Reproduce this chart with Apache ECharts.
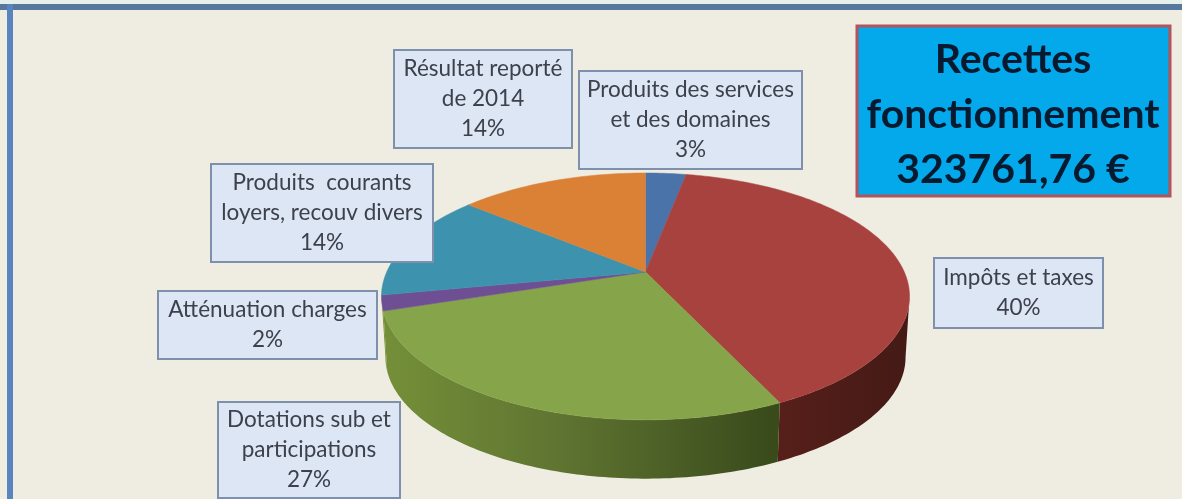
<!DOCTYPE html>
<html>
<head>
<meta charset="utf-8">
<style>html,body{margin:0;padding:0;background:#efece2}#c{width:1182px;height:499px}</style>
<script src="https://cdn.jsdelivr.net/npm/echarts@6/dist/echarts.min.js"></script>
</head>
<body>
<div id="c"></div>
<script>
// Data
const categories = ['Produits des services\net des domaines', 'Impôts et taxes', 'Dotations sub et\nparticipations', 'Atténuation charges', 'Produits  courants\nloyers, recouv divers', 'Résultat reporté\nde 2014'];
const percents = [3, 40, 27, 2, 14, 14];
const titleLines = ['Recettes', 'fonctionnement', '323761,76 €'];

// Styles
const topColors = ['#4a74a9', '#a8423f', '#86a44a', '#6e4f94', '#3d92ae', '#da8136'];
const wallColors = [null,
  [[0, '#571f1a'], [1, '#451a16']],
  [[0, '#748f38'], [0.45, '#5f7431'], [1, '#394a1b']],
  [[0, '#748f38'], [1, '#748f38']], null, null];
const wallGradientRange = [[0,0],[775,905],[385,775],[380,386],[0,0],[0,0]];
// Boxes: [x0, y0, x1, y1]
const boxes = [[579,71,802,169],[934,258,1103,328],[218,402,400,498],[158,291,377,359],[211,164,433,262],[394,50,572,148]];

// Perspective model of the disc
const P = {cx: 645.5, cy: 272, A: 118.6, B: 258.8, k: -0.198, depth: 61, wallScale: 0.985};
function proj(deg, lower) {
  const a = deg * Math.PI / 180, X = Math.sin(a), Y = -Math.cos(a), d = 1 + P.k * Y;
  const s = lower ? P.wallScale : 1;
  return [P.cx + s * P.B * X / d, P.cy + (lower ? P.depth : 0) + s * P.A * Y / d];
}
const total = percents.reduce((a, b) => a + b, 0);
function spanOf(i) {
  let s = 0;
  for (let j = 0; j < i; j++) s += percents[j];
  return [s / total * 360, (s + percents[i]) / total * 360];
}
function arc(a0, a1, lower) {
  const pts = [], n = Math.max(2, Math.ceil(Math.abs(a1 - a0)));
  for (let j = 0; j <= n; j++) pts.push(proj(a0 + (a1 - a0) * j / n, lower));
  return pts;
}
const wallFrom = 101.4, wallTo = 258.6;

function renderTop(params) {
  const [a0, a1] = spanOf(params.dataIndex);
  const pts = [[P.cx, P.cy]].concat(arc(a0, a1, false));
  return {type: 'polygon', shape: {points: pts}, style: {fill: topColors[params.dataIndex], stroke: topColors[params.dataIndex], lineWidth: 0.5}};
}
function renderWall(params) {
  const i = params.dataIndex;
  let [a0, a1] = spanOf(i);
  a0 = Math.max(a0, wallFrom); a1 = Math.min(a1, wallTo);
  if (a1 <= a0 || !wallColors[i]) return {type: 'group', children: []};
  const pts = arc(a0, a1, false).concat(arc(a1, a0, true));
  const r = wallGradientRange[i];
  return {type: 'polygon', shape: {points: pts}, style: {
    fill: {type: 'linear', x: r[0], y: 0, x2: r[1], y2: 0, global: true,
      colorStops: wallColors[i].map(c => ({offset: c[0], color: c[1]}))}
  }};
}

const gfx = [
  {type: 'rect', z: 1, shape: {x: 0, y: 4, width: 1182, height: 6}, style: {fill: '#56789f'}},
  {type: 'rect', z: 1, shape: {x: 7, y: 4, width: 6, height: 495}, style: {fill: '#5a84bd'}},
  {type: 'rect', z: 1, shape: {x: 0, y: 0, width: 1182, height: 4}, style: {fill: '#e6efe9'}}
];
const labelFont = 'Lato, "Open Sans", sans-serif';
categories.forEach((c, i) => {
  const b = boxes[i];
  gfx.push({type: 'rect', z: 5, shape: {x: b[0], y: b[1], width: b[2] - b[0], height: b[3] - b[1]},
    style: {fill: '#dde6f4', stroke: '#7e90ab', lineWidth: 2}});
  gfx.push({type: 'text', z: 6, x: (b[0] + b[2]) / 2, y: (b[1] + b[3]) / 2,
    style: {text: c + '\n' + percents[i] + '%', fill: '#3c414c', font: '22.5px ' + labelFont,
      align: 'center', verticalAlign: 'middle', lineHeight: 30}});
});
gfx.push({type: 'rect', z: 5, shape: {x: 857, y: 26, width: 313, height: 170},
  style: {fill: '#03a9ea', stroke: '#b5535a', lineWidth: 3}});
gfx.push({type: 'text', z: 6, x: 1013, y: 115,
  style: {text: titleLines.join('\n'), fill: '#071a30', font: 'bold 41px ' + labelFont,
    align: 'center', verticalAlign: 'middle', lineHeight: 55}});

const chart = echarts.init(document.getElementById('c'), null, {renderer: 'canvas'});
chart.setOption({
  animation: false,
  backgroundColor: '#efece2',
  graphic: gfx,
  series: [
    {type: 'custom', name: 'côté', coordinateSystem: 'none', z: 2, renderItem: renderWall, data: percents, silent: true},
    {type: 'custom', name: 'Recettes', coordinateSystem: 'none', z: 3, renderItem: renderTop, data: percents, silent: true}
  ]
});
</script>
</body>
</html>
